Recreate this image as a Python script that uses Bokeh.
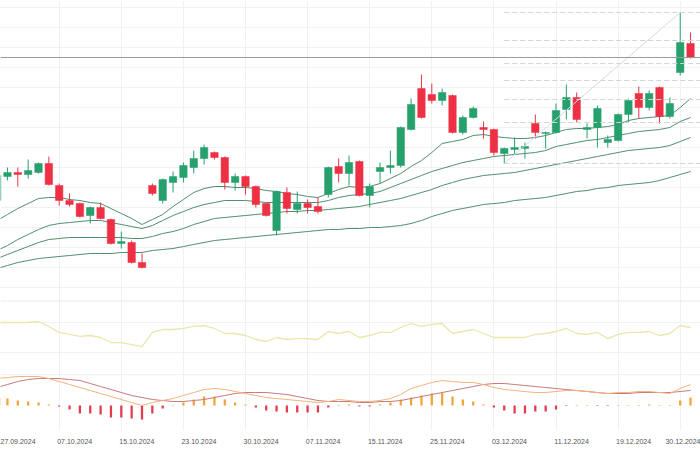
from bokeh.plotting import figure
from bokeh.layouts import column
from bokeh.models import Range1d, FixedTicker, Span, ColumnDataSource, Grid
from bokeh.embed import file_html
from bokeh.resources import INLINE

# ---------------- data ----------------
opens  = [107,131,135,133,135,144,122,107,104,92,100,88,64,65,45,122,107,125,130,140,149,155,150,125,131,121,104,77,115,98,104,101,113,141,134,146,112,136,140,142,178,219,213,207,212,175,190,180,178,154,158,159,184,174,175,198,210,178,180,165,167,193,214,200,220,191,235,264]
highs  = [137,140,140,148,145,151,124,114,105,101,105,89,76,67,54,124,129,136,145,157,163,156,151,134,132,122,105,117,120,116,108,110,141,149,152,147,124,145,157,181,209,233,224,219,213,192,201,186,179,160,170,165,193,176,204,223,215,184,202,172,194,209,221,217,221,210,295,275]
lows   = [105,127,121,129,134,122,102,101,90,84,88,63,59,44,39,112,104,115,125,134,143,148,118,117,113,100,91,72,94,94,94,94,110,125,122,111,100,124,134,140,177,189,204,202,174,173,189,169,152,144,153,149,169,159,174,188,185,169,160,160,166,185,189,197,184,189,232,249]
closes = [132,135,133,137,144,123,107,103,91,100,89,64,66,45,40,114,128,131,142,149,160,150,125,131,121,103,92,116,99,104,100,96,140,134,145,112,121,140,142,180,203,190,207,215,175,190,199,178,155,159,160,161,175,175,197,210,188,180,199,168,193,207,200,214,191,204,265,250]

ma_a = [87,93,99,104,109,110,110,108,107,105,104,99,94,89,83,88,93,101,108,115,119,121,121,120,120,119,117,116,114,113,111,110,114,118,121,120,121,124,129,134,141,147,155,164,166,168,172,173,171,170,169,169,170,172,175,178,179,179,180,181,183,187,189,190,191,192,200,209]
ma_b = [57,62,68,73,78,82,84,85,86,87,87,85,83,81,79,82,87,92,96,100,103,105,107,107,107,106,105,105,105,105,105,105,107,110,112,113,114,116,120,124,128,132,136,139,142,145,147,149,151,152,153,154,155,157,161,163,165,167,168,170,172,174,176,177,178,180,186,190]
ma_c = [49,53,57,61,65,68,69,70,70,70,70,70,70,69,69,71,74,76,79,83,86,89,90,91,92,93,94,95,96,96,97,97,98,99,100,101,103,105,107,109,112,115,118,122,125,128,130,132,133,134,135,137,139,141,143,145,147,149,151,153,155,157,158,159,160,162,166,170]
ma_d = [39,42,45,47,49,50,51,52,53,54,54,54,55,55,55,57,58,59,61,63,65,67,68,69,70,71,72,73,74,75,76,77,78,78,79,79,80,80,81,82,84,87,91,94,97,99,101,103,104,105,107,108,109,110,112,114,116,117,119,120,122,123,124,125,127,130,133,136]

rsi = [70.3,70.3,70.3,70.3,71.6,64.9,56.8,54.1,51.4,52.7,50.0,43.2,43.2,40.5,37.8,56.8,60.8,60.8,62.2,64.9,66.2,62.2,55.4,55.4,52.7,47.3,44.6,50.0,47.3,48.6,48.6,47.3,58.1,55.4,58.1,50.0,52.7,56.8,56.8,63.5,68.9,64.9,67.6,68.9,55.4,58.1,60.8,55.4,50.0,50.0,50.0,50.0,54.1,55.4,58.1,62.2,55.4,54.1,56.8,48.6,54.1,56.8,56.8,58.1,52.7,55.4,66.2,63.5]

macd   = [2.7,2.8,2.9,2.9,2.9,2.7,2.4,2.1,1.8,1.5,1.2,0.9,0.6,0.3,0.0,0.3,0.5,0.7,1.0,1.3,1.6,1.7,1.6,1.4,1.2,1.0,0.8,0.7,0.6,0.5,0.4,0.3,0.4,0.6,0.5,0.4,0.4,0.5,0.7,1.1,1.7,2.0,2.3,2.5,2.4,2.3,2.3,2.1,1.8,1.6,1.5,1.4,1.3,1.3,1.4,1.5,1.5,1.4,1.3,1.2,1.3,1.3,1.4,1.4,1.3,1.2,1.7,2.1]
signal = [1.8,2.1,2.4,2.6,2.7,2.7,2.7,2.6,2.5,2.2,1.9,1.6,1.3,1.0,0.8,0.6,0.5,0.4,0.4,0.5,0.6,0.8,1.0,1.2,1.3,1.3,1.3,1.2,1.1,0.9,0.7,0.5,0.4,0.4,0.4,0.3,0.3,0.4,0.4,0.5,0.7,0.9,1.1,1.3,1.5,1.7,1.9,2.1,2.2,2.2,2.1,2.0,1.9,1.8,1.7,1.6,1.5,1.4,1.3,1.2,1.2,1.2,1.3,1.3,1.3,1.3,1.4,1.5]
hist   = [0.8,0.7,0.5,0.4,0.3,0.1,-0.1,-0.4,-0.8,-0.8,-0.9,-1.2,-1.2,-1.3,-1.4,-0.8,-0.3,0.05,0.3,0.6,0.9,0.9,0.6,0.3,0.1,-0.2,-0.5,-0.6,-0.7,-0.7,-0.7,-0.7,-0.2,0.05,0.1,-0.1,-0.1,0.1,0.3,0.6,0.8,1.0,1.2,1.3,0.9,0.6,0.4,0.1,-0.2,-0.5,-0.8,-0.8,-0.6,-0.6,-0.4,-0.05,0.05,0.05,-0.05,-0.05,0.05,0.05,0.05,0.1,0.05,0.05,0.5,0.8]

tick_candles = [1, 7, 13, 19, 25, 31, 37, 43, 49, 55, 61, 67]
tick_labels = ["27.09.2024", "07.10.2024", "15.10.2024", "23.10.2024", "30.10.2024", "07.11.2024",
               "15.11.2024", "25.11.2024", "03.12.2024", "11.12.2024", "19.12.2024", "30.12.2024"]

fib_start = 49          # candle where the retracement starts (low)
fib_end = 66            # candle with the high
fib_levels = [295, 267, 244, 227, 208, 185, 144]

# ---------------- styling ----------------
GREEN = "#26a06c"
RED = "#ee3045"
MA_COLOR = "#4f8f70"
GRID = "#f1f1f1"
W = 700
n = len(closes)
idx = list(range(n))
x_range = Range1d(0.3285, 67.961)
grid_ticks = list(range(0, n, 6))


def base_fig(height, y_range, **kw):
    p = figure(width=W, height=height, x_range=x_range, y_range=y_range,
               output_backend="svg", toolbar_location=None,
               x_axis_location=kw.pop("x_axis_location", None), y_axis_location=None,
               min_border=0, **kw)
    p.outline_line_color = None
    p.background_fill_color = "white"
    p.border_fill_color = "white"
    p.xgrid.visible = False
    p.ygrid.visible = False
    p.add_layout(Grid(dimension=0, ticker=FixedTicker(ticks=grid_ticks),
                      grid_line_color=GRID, grid_line_width=1))
    return p


# ---------------- main price panel ----------------
p1 = base_fig(300, Range1d(7, 307))
p1.add_layout(Grid(dimension=1, ticker=FixedTicker(ticks=list(range(20, 320, 20))),
                   grid_line_color=GRID, grid_line_width=1))

up = [c >= o for o, c in zip(opens, closes)]
colors = [GREEN if u else RED for u in up]
src = ColumnDataSource(dict(x=idx, o=opens, h=highs, l=lows, c=closes,
                            top=[max(o, c) for o, c in zip(opens, closes)],
                            bot=[min(o, c) for o, c in zip(opens, closes)],
                            color=colors))

for ma in (ma_d, ma_c, ma_b, ma_a):
    p1.line(idx, ma, line_color=MA_COLOR, line_width=1)

p1.segment(x0="x", x1="x", y0="l", y1="h", line_color="color", line_width=1, source=src)
p1.vbar(x="x", width=0.72, top="top", bottom="bot", fill_color="color",
        line_color="color", line_width=0.5, source=src)

# last price line
p1.add_layout(Span(location=closes[-1], dimension="width", line_color="#9b9b9b", line_width=1))

# Fibonacci retracement
p1.segment(x0=[fib_start] * len(fib_levels), x1=[n + 1] * len(fib_levels),
           y0=fib_levels, y1=fib_levels, line_color="#d4d4d4", line_width=1, line_dash="5 3")
p1.line([fib_start, fib_end], [lows[fib_start], highs[fib_end]], line_color="#d3dae0", line_width=1)

# ---------------- RSI panel ----------------
p2 = base_fig(74, Range1d(0, 100))
p2.add_layout(Grid(dimension=1, ticker=FixedTicker(ticks=[30, 70]),
                   grid_line_color=GRID, grid_line_width=1))
p2.add_layout(Span(location=99.6, dimension="width", line_color="#dedede", line_width=1))
p2.line(idx, rsi, line_color="#ebe6ad", line_width=1.3)

# ---------------- MACD panel ----------------
p3 = base_fig(76, Range1d(-2.5, 3.1), x_axis_location="below")
p3.min_border_bottom = 20
p3.add_layout(Span(location=3.09, dimension="width", line_color="#dedede", line_width=1))
hcolors = ["#f2a43a" if h >= 0 else "#e23c4e" for h in hist]
p3.vbar(x=idx, width=0.22, top=hist, bottom=0, fill_color=hcolors, line_color=None)
p3.line(idx, signal, line_color="#c9797a", line_width=1)
p3.line(idx, macd, line_color="#f4b27c", line_width=1)

ax = p3.xaxis[0]
label_pos = [c + 0.5 for c in tick_candles]
ax.ticker = FixedTicker(ticks=label_pos)
ax.major_label_overrides = {pos: lab for pos, lab in zip(label_pos, tick_labels)}
ax.axis_line_color = None
ax.major_tick_line_color = None
ax.minor_tick_line_color = None
ax.major_tick_out = 0
ax.major_tick_in = 0
ax.major_label_standoff = 8
ax.major_label_text_font = "Liberation Sans"
ax.major_label_text_font_size = "7px"
ax.major_label_text_color = "#555555"

layout = column(p1, p2, p3, spacing=0)
open("out.html", "w").write(file_html(layout, INLINE))
